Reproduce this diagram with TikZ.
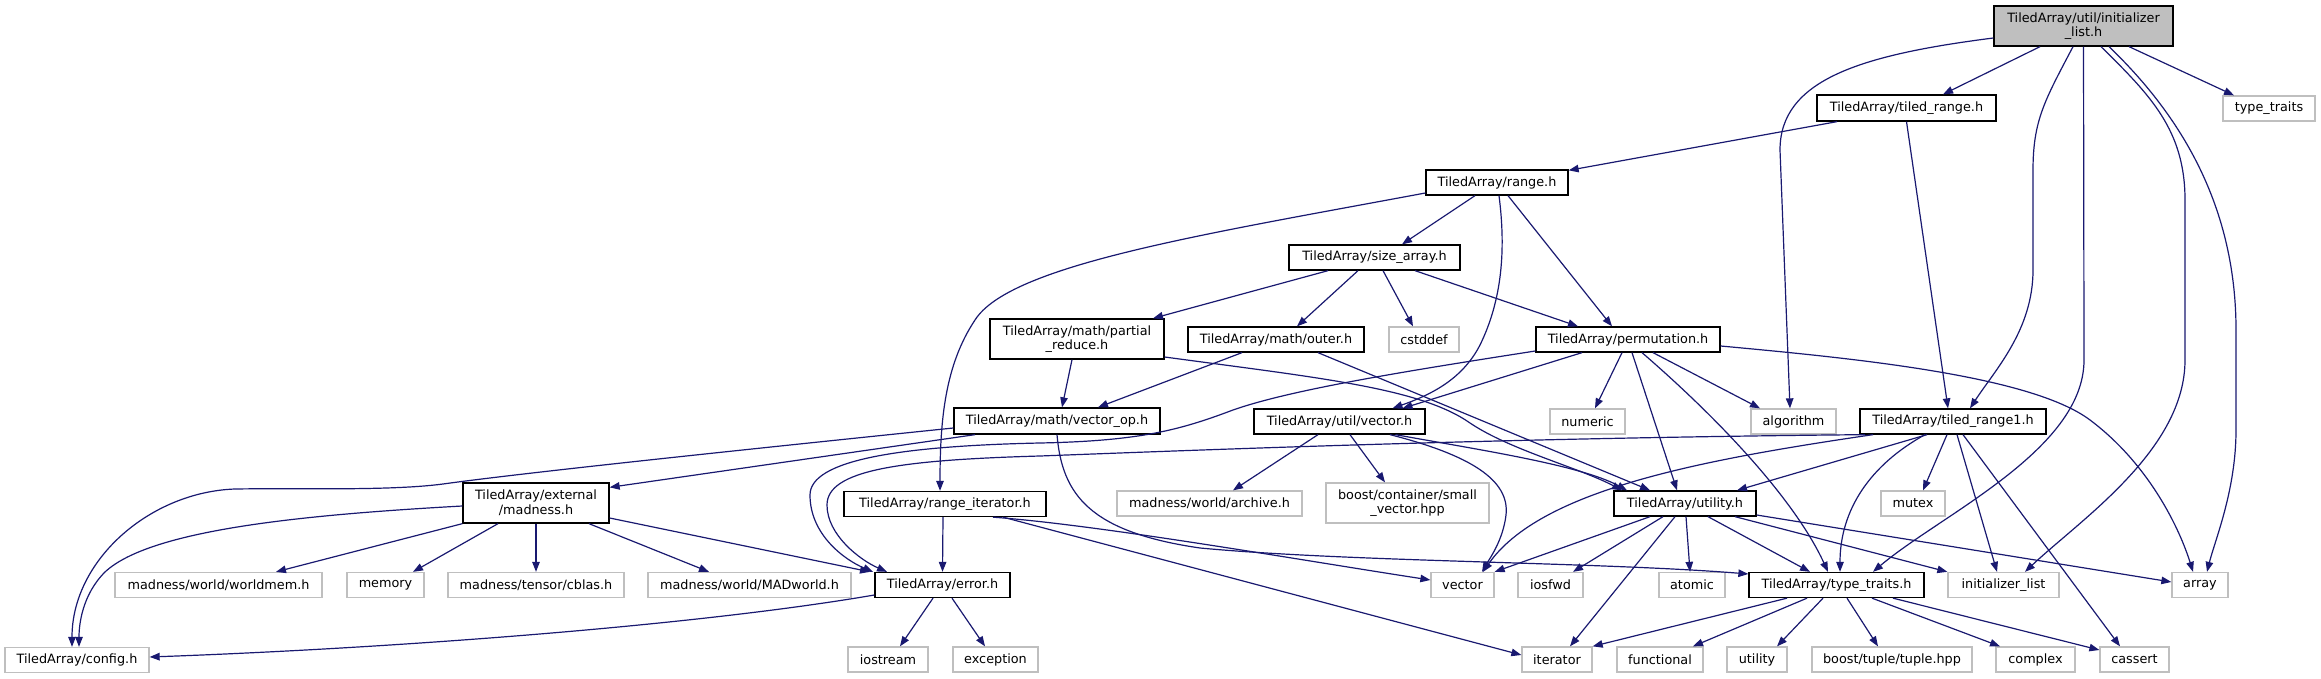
\documentclass[tikz,border=0pt]{standalone}
\usepackage{fontspec}
\setmainfont{DejaVu Sans}
\usetikzlibrary{arrows.meta}
\definecolor{edgeblue}{HTML}{191970}
\definecolor{sysgray}{HTML}{BFBFBF}
\begin{document}
\begin{tikzpicture}[x=1pt,y=-1pt,
  box/.style={rectangle, inner sep=0pt, line width=1.3pt, font=\fontsize{12.8}{14.7}\selectfont, align=center, text=black},
  ta/.style={box, draw=black, fill=white},
  sys/.style={box, draw=sysgray, fill=white},
  rt/.style={box, draw=black, fill=sysgray},
  wh/.style 2 args={minimum width=#1pt, minimum height=#2pt},
  edge/.style={draw=edgeblue, line width=1.2pt, -{Triangle[length=10pt,width=7.5pt]}}]
\useasboundingbox (0,0) rectangle (2321,679);
% row 1-2
\node[rt,wh={179}{40}] (root) at (2083.5,26) {TiledArray/util/initializer\\\_list.h};
\node[ta,wh={179}{26}] (trange) at (1906.5,108) {TiledArray/tiled\_range.h};
\node[sys,wh={92}{25}] (stdtt) at (2269,108.5) {type\_traits};
% row 3-4
\node[ta,wh={142}{25}] (range) at (1497,182.5) {TiledArray/range.h};
\node[ta,wh={171}{25}] (sizearr) at (1374.5,257.5) {TiledArray/size\_array.h};
% row 5
\node[ta,wh={174}{40}] (preduce) at (1077,339) {TiledArray/math/partial\\\_reduce.h};
\node[ta,wh={176}{25}] (outer) at (1276,339.5) {TiledArray/math/outer.h};
\node[sys,wh={70}{25}] (cstddef) at (1424,339.5) {cstddef};
\node[ta,wh={184}{25}] (perm) at (1628,339.5) {TiledArray/permutation.h};
% row 6
\node[ta,wh={206}{26}] (vecop) at (1057,421) {TiledArray/math/vector\_op.h};
\node[ta,wh={171}{25}] (uvec) at (1339.5,421.5) {TiledArray/util/vector.h};
\node[sys,wh={75}{25}] (numeric) at (1587.5,421.5) {numeric};
\node[sys,wh={85}{25}] (algo) at (1793.5,421.5) {algorithm};
\node[ta,wh={186}{25}] (trange1) at (1953,421.5) {TiledArray/tiled\_range1.h};
% row 7
\node[ta,wh={146}{40}] (madness) at (536,503) {TiledArray/external\\/madness.h};
\node[ta,wh={202}{25}] (rit) at (945,504) {TiledArray/range\_iterator.h};
\node[sys,wh={185}{25}] (archive) at (1209.5,503.5) {madness/world/archive.h};
\node[sys,wh={163}{40}] (smallvec) at (1407.5,503) {boost/container/small\\\_vector.hpp};
\node[ta,wh={142}{25}] (util) at (1685,503.5) {TiledArray/utility.h};
\node[sys,wh={64}{25}] (mutex) at (1913,503.5) {mutex};
% row 8
\node[sys,wh={207}{25}] (worldmem) at (218.5,585) {madness/world/worldmem.h};
\node[sys,wh={77}{25}] (memory) at (385.5,585) {memory};
\node[sys,wh={176}{25}] (cblas) at (536,585) {madness/tensor/cblas.h};
\node[sys,wh={203}{25}] (madworld) at (749.5,585) {madness/world/MADworld.h};
\node[ta,wh={135}{25}] (error) at (942.5,585) {TiledArray/error.h};
\node[sys,wh={63}{25}] (vector) at (1462.5,585) {vector};
\node[sys,wh={65}{25}] (iosfwd) at (1550.5,585) {iosfwd};
\node[sys,wh={66}{25}] (atomic) at (1692,585) {atomic};
\node[ta,wh={175}{25}] (tth) at (1836.5,585) {TiledArray/type\_traits.h};
\node[sys,wh={111}{25}] (initl) at (2003.5,585) {initializer\_list};
\node[sys,wh={56}{25}] (array) at (2200,585) {array};
% row 9
\node[sys,wh={144}{25}] (config) at (77,660) {TiledArray/config.h};
\node[sys,wh={80}{25}] (iostream) at (888,659.5) {iostream};
\node[sys,wh={85}{25}] (exception) at (995.5,659.5) {exception};
\node[sys,wh={70}{25}] (iterator) at (1557,659.5) {iterator};
\node[sys,wh={86}{25}] (functional) at (1660,659.5) {functional};
\node[sys,wh={60}{25}] (utility) at (1757,659.5) {utility};
\node[sys,wh={160}{25}] (tuple) at (1892,659.5) {boost/tuple/tuple.hpp};
\node[sys,wh={79}{25}] (complex) at (2035.5,659.5) {complex};
\node[sys,wh={69}{25}] (cassert) at (2134.5,659.5) {cassert};

% ---- edges from root
\draw[edge] ([xshift=-43.5pt]root.south) -- ([xshift=36.5pt]trange.north);
\draw[edge] ([yshift=-12pt]root.west) .. controls (1860,55) and (1780,80) .. (1780,150) -- ([xshift=-3.5pt]algo.north);
\draw[edge] ([xshift=-10.5pt]root.south) .. controls (2045,100) and (2033,120) .. (2033,170) -- (2033,270) .. controls (2033,330) and (1995,370) .. ([xshift=17pt]trange1.north);
\draw[edge] (root.south) -- (2084,360) .. controls (2084,450) and (1940,515) .. ([xshift=36.5pt]tth.north);
\draw[edge] ([xshift=17.5pt]root.south) .. controls (2150,95) and (2185,130) .. (2185,200) -- (2185,360) .. controls (2185,450) and (2080,520) .. ([xshift=21.5pt]initl.north);
\draw[edge] ([xshift=25.5pt]root.south) .. controls (2175,110) and (2236,200) .. (2236,330) -- (2236,430) .. controls (2236,490) and (2215,540) .. ([xshift=7pt]array.north);
\draw[edge] ([xshift=45.5pt]root.south) -- ([xshift=-35pt]stdtt.north);
% tiled_range
\draw[edge] ([xshift=-69.5pt]trange.south) -- ([yshift=-1pt]range.north east);
\draw[edge] (trange.south) -- ([xshift=-5pt]trange1.north);
% range
\draw[edge] ([xshift=-22pt]range.south) -- ([xshift=27.5pt]sizearr.north);
\draw[edge] ([xshift=11pt]range.south) -- ([xshift=-16pt]perm.north);
\draw[edge] ([xshift=2pt]range.south) .. controls (1506,250) and (1502,300) .. (1480,345) .. controls (1462,380) and (1430,395) .. ([xshift=53pt]uvec.north);
\draw[edge] ([yshift=-10.5pt]range.west) .. controls (1200,235) and (1010,265) .. (975,320) .. controls (945,365) and (940,420) .. ([xshift=-5pt]rit.north);
% size_array
\draw[edge] ([xshift=-46.5pt]sizearr.south) -- ([xshift=76pt]preduce.north);
\draw[edge] ([xshift=-16.5pt]sizearr.south) -- ([xshift=21pt]outer.north);
\draw[edge] ([xshift=8.5pt]sizearr.south) -- ([xshift=-11pt]cstddef.north);
\draw[edge] ([xshift=40.5pt]sizearr.south) -- ([xshift=-50pt]perm.north);
% partial_reduce
\draw[edge] ([xshift=-5pt]preduce.south) -- ([xshift=5pt]vecop.north);
\draw[edge] ([yshift=-18pt]preduce.east) .. controls (1320,378) and (1420,388) .. (1470,423) .. controls (1510,450) and (1580,468) .. ([xshift=-63pt]util.north);
% outer
\draw[edge] ([xshift=-34pt]outer.south) -- ([xshift=41pt]vecop.north);
\draw[edge] ([xshift=42pt]outer.south) -- ([xshift=-35pt]util.north);
% vector_op
\draw[edge] ([xshift=-82pt]vecop.south) -- ([yshift=-5pt]madness.north east);
\draw[edge] ([yshift=-7pt]vecop.west) .. controls (760,448) and (530,472) .. (443,484) .. controls (390,491) and (300,488) .. (235,489) .. controls (150,492) and (72,560) .. ([xshift=-5pt]config.north);
\draw[edge] (vecop.south) .. controls (1062,495) and (1090,532) .. (1200,548) .. controls (1350,562) and (1600,562) .. ([yshift=11pt]tth.west);
% util/vector
\draw[edge] ([xshift=-21.5pt]uvec.south) -- ([xshift=23.5pt]archive.north);
\draw[edge] ([xshift=10.5pt]uvec.south) -- ([xshift=-22.5pt]smallvec.north);
\draw[edge] ([xshift=50.5pt]uvec.south) .. controls (1470,455) and (1510,480) .. (1506,515) .. controls (1503,540) and (1490,558) .. ([xshift=19.5pt]vector.north);
\draw[edge] ([xshift=56pt]uvec.south) .. controls (1480,450) and (1580,465) .. ([xshift=-58pt]util.north);
% permutation
\draw[edge] ([xshift=-6pt]perm.south) -- ([xshift=7.5pt]numeric.north);
\draw[edge] ([xshift=25pt]perm.south) -- ([xshift=-33.5pt]algo.north);
\draw[edge] ([xshift=4pt]perm.south) -- ([xshift=-8pt]util.north);
\draw[edge] ([xshift=14pt]perm.south) .. controls (1720,420) and (1795,500) .. ([xshift=-8.5pt]tth.north);
\draw[edge] ([yshift=-6.5pt]perm.east) .. controls (1850,358) and (2030,375) .. (2090,420) .. controls (2150,465) and (2180,530) .. ([xshift=-7pt]array.north);
\draw[edge] ([xshift=-46pt]perm.south) -- ([xshift=63pt]uvec.north);
\draw[edge] ([yshift=-11.5pt]perm.west) .. controls (1400,372) and (1290,390) .. (1233,410) .. controls (1180,430) and (1140,441) .. (1040,443) .. controls (900,446) and (810,460) .. (810,495) .. controls (810,535) and (845,560) .. ([xshift=-69.5pt]error.north);
% tiled_range1
\draw[edge] ([xshift=-80pt]trange1.south) .. controls (1700,460) and (1540,490) .. ([xshift=20.5pt]vector.north);
\draw[edge] ([xshift=-26pt]trange1.south) -- ([xshift=52pt]util.north);
\draw[edge] ([xshift=-28pt]trange1.south) .. controls (1870,465) and (1840,510) .. ([xshift=3.5pt]tth.north);
\draw[edge] ([xshift=-6pt]trange1.south) -- ([xshift=10pt]mutex.north);
\draw[edge] ([xshift=4pt]trange1.south) -- ([xshift=-6.5pt]initl.north);
\draw[edge] ([xshift=10pt]trange1.south) -- ([xshift=-14.5pt]cassert.north);
\draw[edge] ([xshift=-88pt]trange1.south) .. controls (1500,438) and (1200,450) .. (1040,456) .. controls (900,460) and (827,470) .. (827,505) .. controls (827,535) and (860,560) .. ([xshift=-55.5pt]error.north);
% madness
\draw[edge] (madness.south west) -- ([xshift=57.5pt]worldmem.north);
\draw[edge] ([xshift=-38pt]madness.south) -- ([xshift=27.5pt]memory.north);
\draw[edge] (madness.south) -- (cblas.north);
\draw[edge] ([xshift=53pt]madness.south) -- ([xshift=-40.5pt]madworld.north);
\draw[edge] ([yshift=-15pt]madness.east) -- ([xshift=-72.5pt]error.north);
\draw[edge] ([yshift=-3pt]madness.west) .. controls (300,515) and (150,530) .. (105,572) .. controls (82,595) and (79,625) .. ([xshift=2pt]config.north);
% error
\draw[edge] ([yshift=-10pt]error.west) .. controls (700,625) and (400,648) .. ([yshift=3pt]config.east);
\draw[edge] ([xshift=-9.5pt]error.south) -- ([xshift=12pt]iostream.north);
\draw[edge] ([xshift=9.5pt]error.south) -- ([xshift=-10.5pt]exception.north);
% range_iterator
\draw[edge] ([xshift=-2pt]rit.south) -- (error.north);
\draw[edge] ([xshift=48pt]rit.south) .. controls (1100,525) and (1300,560) .. ([yshift=5pt]vector.west);
\draw[edge] ([xshift=58pt]rit.south) -- ([yshift=4.5pt]iterator.west);
% utility
\draw[edge] ([xshift=-35pt]util.south) -- (vector.north east);
\draw[edge] ([xshift=-22pt]util.south) -- ([xshift=22.5pt]iosfwd.north);
\draw[edge] ([xshift=-10pt]util.south) -- ([xshift=13pt]iterator.north);
\draw[edge] ([xshift=1pt]util.south) -- ([xshift=-2pt]atomic.north);
\draw[edge] ([xshift=23pt]util.south) -- ([xshift=-26.5pt]tth.north);
\draw[edge] ([xshift=50pt]util.south) -- (initl.north west);
\draw[edge] ([yshift=-11.5pt]util.east) -- ([yshift=3pt]array.west);
% type_traits.h
\draw[edge] ([xshift=-49.5pt]tth.south) -- (iterator.north east);
\draw[edge] ([xshift=-29.5pt]tth.south) -- ([xshift=33pt]functional.north);
\draw[edge] ([xshift=-13.5pt]tth.south) -- ([xshift=20pt]utility.north);
\draw[edge] ([xshift=10.5pt]tth.south) -- ([xshift=-14pt]tuple.north);
\draw[edge] ([xshift=35.5pt]tth.south) -- ([xshift=-35.5pt]complex.north);
\draw[edge] ([xshift=56.5pt]tth.south) -- ([yshift=9.5pt]cassert.west);
\end{tikzpicture}
\end{document}
